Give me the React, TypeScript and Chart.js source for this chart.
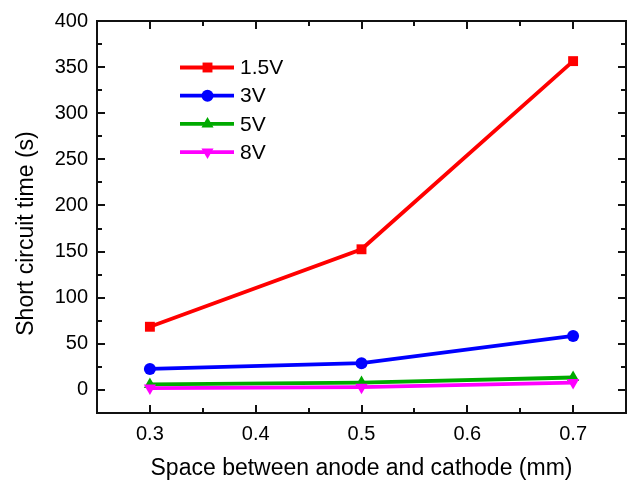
import React, { useEffect, useRef } from "react";
import { Chart, registerables } from "chart.js";

Chart.register(...registerables);

const spacing = [0.3, 0.5, 0.7];
const seriesLabels = ["1.5V", "3V", "5V", "8V"];
const v15 = [68.5, 152.5, 356.5];
const v3 = [22.8, 29, 58.5];
const v5 = [6, 8, 13.5];
const v8 = [2, 3, 8];
const xTicks = [0.3, 0.4, 0.5, 0.6, 0.7];
const yTicks = [0, 50, 100, 150, 200, 250, 300, 350, 400];
const xMinor = [0.35, 0.45, 0.55, 0.65];
const yMinor = [25, 75, 125, 175, 225, 275, 325, 375];
const xTitle = "Space between anode and cathode (mm)";
const yTitle = "Short circuit time (s)";

const FONT = "Arial, 'Liberation Sans', Helvetica, sans-serif";

const colors = ["#ff0000", "#0000ff", "#00aa00", "#ff00ff"];
const styles = ["rect", "circle", "triangle", "triangle"];
const rotations = [0, 0, 0, 180];
const radii = [7, 6, 7, 7];
const values = [v15, v3, v5, v8];

function drawMarker(ctx: CanvasRenderingContext2D, style: string, rot: number, r: number, x: number, y: number) {
  ctx.beginPath();
  if (style === "rect") {
    const s = Math.SQRT1_2 * r;
    ctx.rect(x - s, y - s, 2 * s, 2 * s);
  } else if (style === "circle") {
    ctx.arc(x, y, r, 0, Math.PI * 2);
  } else {
    let rad = (rot * Math.PI) / 180;
    const step = (2 * Math.PI) / 3;
    ctx.moveTo(x + Math.sin(rad) * r, y - Math.cos(rad) * r);
    rad += step;
    ctx.lineTo(x + Math.sin(rad) * r, y - Math.cos(rad) * r);
    rad += step;
    ctx.lineTo(x + Math.sin(rad) * r, y - Math.cos(rad) * r);
    ctx.closePath();
  }
  ctx.fill();
}

const framePlugin = {
  id: "frameTicks",
  afterDraw(chart: any) {
    const ctx: CanvasRenderingContext2D = chart.ctx;
    const area = chart.chartArea;
    const L = area.left;
    const R = area.right;
    const T = area.top;
    const B = area.bottom;
    const xs = chart.scales.x;
    const ys = chart.scales.y;
    ctx.save();
    ctx.fillStyle = "#111";
    const w = 2;
    ctx.fillRect(L - 1, T - 1, R - L + 2, w);
    ctx.fillRect(L - 1, B - 1, R - L + 2, w);
    ctx.fillRect(L - 1, T - 1, w, B - T + 2);
    ctx.fillRect(R - 1, T - 1, w, B - T + 2);
    const majLen = 8;
    const minLen = 5;
    const vt = (v: number, len: number) => {
      const p = Math.round(xs.getPixelForValue(v)) - 1;
      ctx.fillRect(p, B - len, w, len);
      ctx.fillRect(p, T, w, len);
    };
    const ht = (v: number, len: number) => {
      const p = Math.round(ys.getPixelForValue(v)) - 1;
      ctx.fillRect(L, p, len, w);
      ctx.fillRect(R - len, p, len, w);
    };
    for (const v of xTicks) vt(v, majLen);
    for (const v of xMinor) vt(v, minLen);
    for (const v of yTicks) ht(v, majLen);
    for (const v of yMinor) ht(v, minLen);

    // y axis title
    ctx.fillStyle = "#000";
    ctx.font = `23px ${FONT}`;
    ctx.textAlign = "center";
    ctx.textBaseline = "middle";
    ctx.save();
    ctx.translate(27, 233.5);
    ctx.rotate(-Math.PI / 2);
    ctx.fillText(yTitle, 0, 0);
    ctx.restore();

    // legend
    const lx0 = 180;
    const lx1 = 234;
    const mx = 207.5;
    const tx = 240;
    chart.data.datasets.forEach((ds: any, i: number) => {
      const y = 67.5 + i * 28.2;
      ctx.strokeStyle = ds.borderColor;
      ctx.fillStyle = ds.borderColor;
      ctx.lineWidth = 3.8;
      ctx.beginPath();
      ctx.moveTo(lx0, y);
      ctx.lineTo(lx1, y);
      ctx.stroke();
      drawMarker(ctx, styles[i], rotations[i], radii[i], mx, y);
      ctx.fillStyle = "#000";
      ctx.font = `21px ${FONT}`;
      ctx.textBaseline = "middle";
      ctx.textAlign = "left";
      ctx.fillText(ds.label, tx, y + 1);
    });
    ctx.restore();
  },
};

export default function App() {
  const ref = useRef<HTMLCanvasElement | null>(null);
  useEffect(() => {
    if (!ref.current) return;
    const datasets = seriesLabels.map((label, i) => ({
      label,
      data: spacing.map((x, j) => ({ x, y: values[i][j] })),
      borderColor: colors[i],
      backgroundColor: colors[i],
      borderWidth: 3.8,
      pointStyle: styles[i],
      rotation: rotations[i],
      pointRadius: radii[i],
      pointBorderWidth: 0,
      pointHoverRadius: radii[i],
      tension: 0,
      order: 3 - i,
    }));
    const chart = new Chart(ref.current, {
      type: "line",
      data: { datasets },
      options: {
        animation: false,
        responsive: true,
        maintainAspectRatio: false,
        layout: { padding: { top: 21, right: 2, left: 0, bottom: 0 } },
        plugins: { legend: { display: false }, tooltip: { enabled: false } },
        scales: {
          x: {
            type: "linear",
            min: 0.25,
            max: 0.75,
            grid: { display: false, drawTicks: false },
            border: { display: false },
            afterBuildTicks: (s: any) => {
              s.ticks = xTicks.map((v) => ({ value: v }));
            },
            afterFit: (s: any) => {
              s.height = 67;
            },
            ticks: {
              color: "#000",
              font: { size: 20, family: FONT },
              padding: 9,
              callback: (v: any) => Number(v).toFixed(1),
              maxRotation: 0,
            },
            title: {
              display: true,
              text: xTitle,
              color: "#000",
              font: { size: 23, family: FONT, lineHeight: 1 },
              padding: 0,
            },
          },
          y: {
            type: "linear",
            min: -25,
            max: 400,
            grid: { display: false, drawTicks: false },
            border: { display: false },
            afterBuildTicks: (s: any) => {
              s.ticks = yTicks.map((v) => ({ value: v }));
            },
            afterFit: (s: any) => {
              s.width = 97;
            },
            ticks: {
              color: "#000",
              font: { size: 20, family: FONT },
              padding: 9,
            },
            title: { display: false, text: yTitle },
          },
        },
      },
      plugins: [framePlugin],
    } as any);
    return () => chart.destroy();
  }, []);
  return (
    <div style={{ position: "fixed", left: 0, top: 0, width: 633, height: 480, background: "#fff" }}>
      <canvas ref={ref} />
    </div>
  );
}
